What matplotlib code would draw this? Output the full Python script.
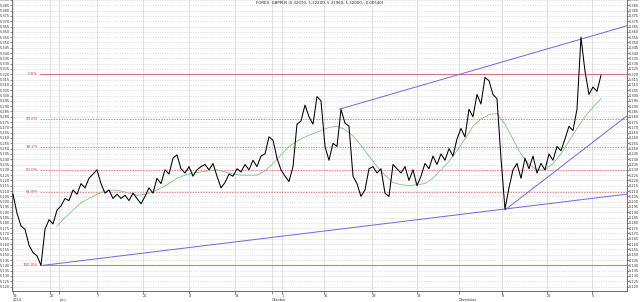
import numpy as np
import matplotlib
matplotlib.use("Agg")
import matplotlib.pyplot as plt
import matplotlib.transforms as mtrans

# GBPPLN closing prices (one sample per step on the time index)
price = [5.207, 5.189, 5.177, 5.174, 5.159, 5.152, 5.149, 5.140, 5.174, 5.183,
         5.179, 5.192, 5.196, 5.203, 5.201, 5.211, 5.207, 5.217, 5.213, 5.222,
         5.226, 5.230, 5.217, 5.208, 5.211, 5.203, 5.207, 5.203, 5.206, 5.201,
         5.208, 5.203, 5.198, 5.205, 5.213, 5.208, 5.222, 5.217, 5.230, 5.226,
         5.241, 5.244, 5.231, 5.227, 5.233, 5.224, 5.230, 5.233, 5.235, 5.230,
         5.236, 5.224, 5.213, 5.218, 5.226, 5.224, 5.231, 5.228, 5.235, 5.230,
         5.239, 5.233, 5.243, 5.245, 5.261, 5.258, 5.241, 5.230, 5.224, 5.219,
         5.233, 5.273, 5.276, 5.291, 5.280, 5.273, 5.299, 5.295, 5.252, 5.239,
         5.255, 5.252, 5.287, 5.274, 5.271, 5.224, 5.217, 5.205, 5.211, 5.231,
         5.233, 5.227, 5.231, 5.208, 5.205, 5.235, 5.231, 5.227, 5.233, 5.220,
         5.230, 5.215, 5.224, 5.236, 5.231, 5.243, 5.235, 5.245, 5.239, 5.250,
         5.243, 5.259, 5.269, 5.261, 5.287, 5.280, 5.301, 5.292, 5.317, 5.314,
         5.301, 5.297, 5.241, 5.193, 5.213, 5.230, 5.236, 5.222, 5.241, 5.231,
         5.243, 5.227, 5.236, 5.230, 5.245, 5.239, 5.252, 5.248, 5.259, 5.271,
         5.267, 5.287, 5.355, 5.323, 5.301, 5.308, 5.304, 5.319]

# moving average, every second sample starting at index 11
ma_start = 11
ma = [5.177, 5.185, 5.192, 5.199, 5.203, 5.207, 5.210, 5.211, 5.210, 5.208,
      5.206, 5.207, 5.209, 5.213, 5.217, 5.222, 5.225, 5.227, 5.228, 5.229,
      5.230, 5.228, 5.226, 5.225, 5.225, 5.225, 5.229, 5.236, 5.244, 5.252,
      5.257, 5.261, 5.264, 5.267, 5.270, 5.271, 5.268, 5.262, 5.253, 5.243,
      5.233, 5.225, 5.218, 5.216, 5.215, 5.216, 5.217, 5.222, 5.230, 5.238,
      5.248, 5.259, 5.271, 5.278, 5.282, 5.283, 5.273, 5.259, 5.245, 5.235,
      5.230, 5.230, 5.236, 5.245, 5.257, 5.269, 5.280, 5.289, 5.297]

# trend lines: (start index, start price, end index, end price)
trends = [(81.75, 5.2873, 153.5, 5.3657),
          (7.5, 5.1400, 153.5, 5.2071),
          (123.0, 5.1922, 153.5, 5.2808)]

fib_high = 5.320
fib_low = 5.140
fib_ratios = [0.0, 0.236, 0.382, 0.5, 0.618, 1.0]
fib_labels = ["0.0%", "23.6%", "38.2%", "50.0%", "61.8%", "100.0%"]

tick_pos = [0, 9.25, 11.5, 21, 32.5, 44, 55.5, 64.75, 67.25, 77.75, 89.75,
            101, 111.5, 122.25, 133.5, 144.75]
tick_lab = ["19", "26", "", "7", "21", "4", "18", "", "1",
            "15", "29", "13", "", "8", "22", "5"]
month_pos = [0, 11.5, 64.75, 111.5]
month_lab = ["2014", "Juni", "Oktober", "Dezember"]

title = "FOREX: GBPPLN (5.32070, 5.32200, 5.31960, 5.32000, -0.00540)"

fig = plt.figure(figsize=(6.4, 3.02), dpi=100)
ax = fig.add_axes([0.01875, 0.036, 0.9609, 0.964])
ax.set_xlim(-0.25, 153.5)
ax.set_ylim(5.1157, 5.390)

fs = 2.5
yt = np.round(np.arange(5.120, 5.3901, 0.005), 3)
ax.set_yticks(yt)
ax.set_yticklabels(["%.3f" % v for v in yt])
ax.tick_params(axis="y", which="both", labelsize=fs, length=1.2, width=0.4,
               pad=0.4, left=True, right=True, labelleft=True, labelright=True,
               colors="#333333")
ax.set_xticks(tick_pos)
ax.set_xticklabels(tick_lab, ha="left")
ax.tick_params(axis="x", labelsize=fs, length=2, width=0.4, pad=0.3,
               colors="#333333")

tr = mtrans.blended_transform_factory(ax.transData, fig.transFigure)
for p, m in zip(month_pos, month_lab):
    ax.text(p, 0.001, m, transform=tr, fontsize=fs, ha="left", va="bottom",
            color="#333333")

ax.grid(axis="y", color="#c8c8c8", linestyle=(0, (1, 1.5)), linewidth=0.5)
ax.grid(axis="x", color="#d4d4d4", linestyle="-", linewidth=0.5)
for s in ax.spines.values():
    s.set_color("#555555")
    s.set_linewidth(0.6)
ax.spines["top"].set_visible(False)

# fibonacci levels
for r, lab in zip(fib_ratios, fib_labels):
    lvl = fib_high - r * (fib_high - fib_low)
    if r in (0.0, 1.0):
        ax.plot([6.75, 153.5], [lvl, lvl], color="#e8707e", lw=0.8, zorder=2)
    else:
        ax.plot([6.75, 153.5], [lvl, lvl], color="#e88088", lw=0.7,
                linestyle=(0, (1.5, 1.2)), zorder=2)
    ax.text(6.2, lvl, lab, color="#e03040", fontsize=fs + 0.3, ha="right",
            va="center")

for x0, y0, x1, y1 in trends:
    ax.plot([x0, x1], [y0, y1], color="#6a6ae0", lw=0.7, zorder=3)

ma_x = np.arange(len(ma)) * 2 + ma_start
ax.plot(ma_x, ma, color="#7cc47c", lw=0.6, zorder=4)
ax.plot(np.arange(len(price)), price, color="black", lw=0.75, zorder=5)

ax.text(0.5, 0.997, title, transform=ax.transAxes, fontsize=fs + 0.3,
        ha="center", va="top", color="#222222")

fig.savefig("out.png", dpi=100)
